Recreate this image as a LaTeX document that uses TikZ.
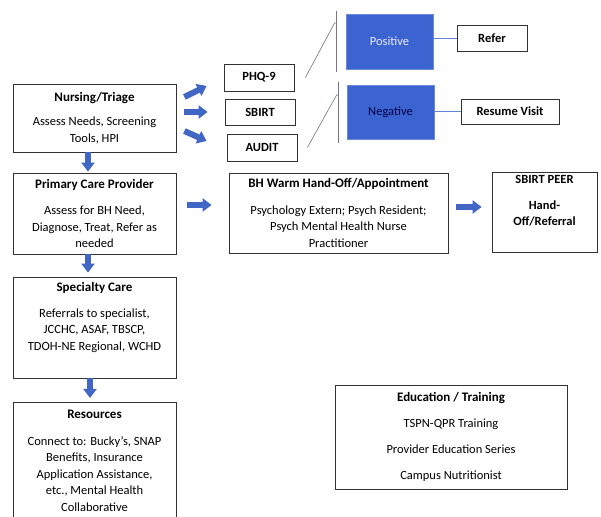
\documentclass[tikz,border=0pt]{standalone}
\usepackage{fontspec}
\setmainfont{Carlito}
\usetikzlibrary{arrows.meta}
\definecolor{arrowblue}{HTML}{4266C4}
\definecolor{boxblue}{HTML}{3C64D0}
\definecolor{linegray}{HTML}{6E7688}
\newcommand\boxtitle[1]{{\fontsize{13}{15}\selectfont\bfseries #1}}
\begin{document}
\begin{tikzpicture}[x=1pt,y=1pt,
	box/.style={draw=black!80,line width=.8pt,align=center,inner sep=2pt,font=\fontsize{12.5}{16.5}\selectfont},
	tool/.style={box,font=\bfseries\fontsize{12.5}{15}\selectfont},
	bluebox/.style={draw=boxblue!75,fill=boxblue,line width=.8pt,inner sep=2pt,font=\fontsize{12.5}{15}\selectfont},
	barrow/.style={draw=arrowblue,line width=6pt,-{Triangle[length=9pt,width=13pt]}},
	bracketline/.style={draw=linegray,line width=.6pt},
	blueline/.style={draw=boxblue!80,line width=.6pt}]
	\clip(0,0)rectangle(601,516);
	\fill[white](0,0)rectangle(601,516);
	% left column
	\node[box,minimum width=163pt,minimum height=68pt](nurse)at(94.5,398){\boxtitle{Nursing/Triage}\\[8pt]Assess Needs, Screening\\Tools, HPI};
	\node[box,minimum width=163pt,minimum height=81pt](pcp)at(94.5,302.5){\boxtitle{Primary Care Provider}\\[10pt]Assess for BH Need,\\Diagnose, Treat, Refer as\\needed};
	\node[box,minimum width=163pt,minimum height=101pt](spec)at(94.5,188.5){\boxtitle{Specialty Care}\\[9.5pt]Referrals to specialist,\\JCCHC, ASAF, TBSCP,\\TDOH-NE Regional, WCHD\\[6pt]};
	\node[box,minimum width=163pt,minimum height=117pt,anchor=north](res)at(94.5,114){\boxtitle{Resources}\\[10pt]Connect to: Bucky's, SNAP\\Benefits, Insurance\\Application Assistance,\\etc., Mental Health\\Collaborative};
	% screening tools
	\node[tool,minimum width=70pt,minimum height=27pt](phq)at(259,438.5){PHQ-9};
	\node[tool,minimum width=70pt,minimum height=26pt](sbirt)at(260,404){SBIRT};
	\node[tool,minimum width=70pt,minimum height=27pt](audit)at(262,368.5){AUDIT};
	% results
	\node[bluebox,text=blue!8,minimum width=87pt,minimum height=55pt](pos)at(389.5,474.5){Positive};
	\node[bluebox,text=blue!30!black,minimum width=87pt,minimum height=54pt](neg)at(390.5,404){Negative};
	\node[tool,minimum width=70pt,minimum height=26pt](refer)at(492,478){Refer};
	\node[tool,minimum width=98pt,minimum height=25pt](resume)at(510,404.5){Resume Visit};
	% hand-off
	\node[box,minimum width=219pt,minimum height=80pt](bh)at(338.5,303){\boxtitle{BH Warm Hand-Off/Appointment}\\[10pt]Psychology Extern; Psych Resident;\\Psych Mental Health Nurse\\Practitioner};
	\node[tool,font=\bfseries\fontsize{12.5}{16}\selectfont,minimum width=105pt,minimum height=80pt](peer)at(544.5,304){SBIRT PEER\\[10pt]Hand-\\Off/Referral\\[8pt]};
	\node[box,minimum width=232pt,minimum height=104pt](edu)at(451,79){\boxtitle{Education / Training}\\[9.5pt]TSPN-QPR Training\\[9.5pt]Provider Education Series\\[9.5pt]Campus Nutritionist};
	% block arrows
	\draw[barrow]([shift={(8,21)}]nurse.east)--([shift={(-17,-8.5)}]phq.west);
	\draw[barrow]([shift={(8,6)}]nurse.east)--([shift={(-17,0)}]sbirt.west);
	\draw[barrow]([shift={(8,-13)}]nurse.east)--([shift={(-20,6.5)}]audit.west);
	\draw[barrow]([xshift=-6.5pt]nurse.south)--([shift={(-6.5,1)}]pcp.north);
	\draw[barrow]([xshift=-6.5pt]pcp.south)--([shift={(-6.5,4)}]spec.north);
	\draw[barrow]([xshift=-4.5pt]spec.south)--([shift={(-4.5,4)}]res.north);
	\draw[barrow]([shift={(11,8.5)}]pcp.east)--([shift={(-17,8)}]bh.west);
	\draw[barrow]([shift={(8,6)}]bh.east)--([shift={(-10,5)}]peer.west);
	% brackets
	\draw[bracketline]([shift={(-9,3)}]pos.north west)--([shift={(-9,-3)}]pos.south west);
	\draw[bracketline]([xshift=11pt]phq.east)--([shift={(-11,18.5)}]pos.west)--([shift={(-9,18.5)}]pos.west);
	\draw[bracketline]([shift={(-8,3)}]neg.north west)--([shift={(-8,-4)}]neg.south west);
	\draw[bracketline]([xshift=10pt]audit.east)--([shift={(-10,17)}]neg.west)--([shift={(-8,17)}]neg.west);
	\draw[blueline](pos.east|-refer)--(refer.west);
	\draw[blueline](neg.east|-resume)--(resume.west);
\end{tikzpicture}
\end{document}
